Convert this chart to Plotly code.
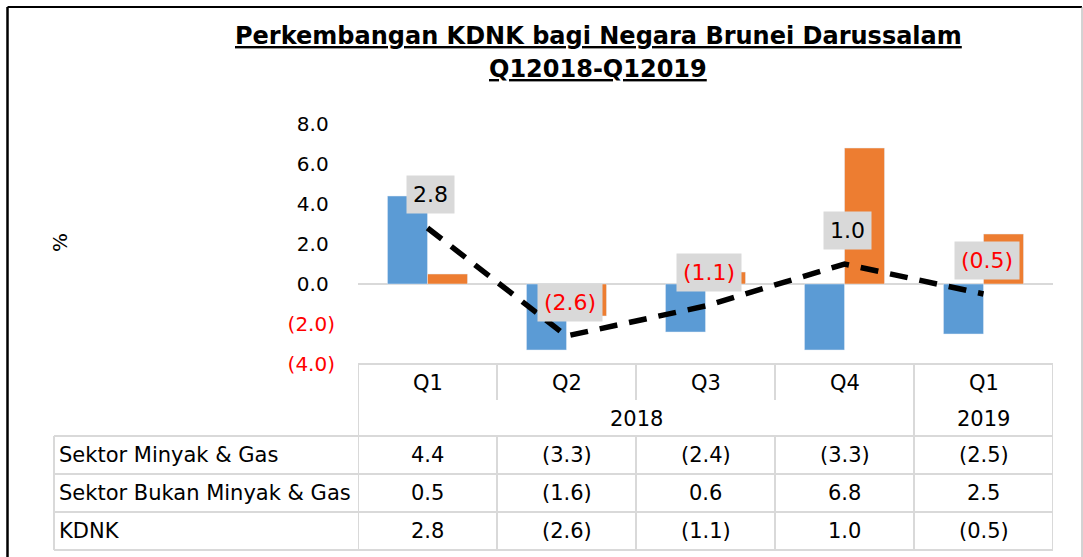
import plotly.graph_objects as go

# ---- data ----
quarters = ["Q1", "Q2", "Q3", "Q4", "Q1"]
years = ["2018", "2018", "2018", "2018", "2019"]
series_names = ["Sektor Minyak & Gas", "Sektor Bukan Minyak & Gas", "KDNK"]
minyak_gas = [4.4, -3.3, -2.4, -3.3, -2.5]
bukan_minyak_gas = [0.5, -1.6, 0.6, 6.8, 2.5]
kdnk = [2.8, -2.6, -1.1, 1.0, -0.5]
y_ticks = [8, 6, 4, 2, 0, -2, -4]
title_lines = ["Perkembangan KDNK bagi Negara Brunei Darussalam", "Q12018-Q12019"]

# ---- style ----
W, H = 1083, 557
L, R, T, B = 358, 1053, 124, 364  # plot area in pixels
BLUE = "#5B9BD5"
ORANGE = "#ED7D31"
GRID = "#D9D9D9"
RED = "#FF0000"
FONT = "DejaVu Sans"


def fmt(v):
    return f"{v:.1f}" if v >= 0 else f"({abs(v):.1f})"


def px(xpix):
    return (xpix - L) / (R - L)


def py(ypix):
    return (B - ypix) / (B - T)


xs = list(range(len(quarters)))

fig = go.Figure()
fig.add_trace(go.Bar(x=xs, y=minyak_gas, name=series_names[0], marker_color=BLUE))
fig.add_trace(go.Bar(x=xs, y=bukan_minyak_gas, name=series_names[1], marker_color=ORANGE))
fig.add_trace(go.Scatter(x=xs, y=kdnk, name=series_names[2], mode="lines",
                         line=dict(color="black", width=5.5, dash="18px,12px")))

annotations = []
shapes = []


def ann(**kw):
    kw.setdefault("showarrow", False)
    kw.setdefault("xanchor", "center")
    kw.setdefault("yanchor", "middle")
    annotations.append(kw)


# data labels for KDNK line
for x, v in zip(xs, kdnk):
    ann(x=x, y=v, xref="x", yref="y", text=fmt(v), yshift=34, xshift=3,
        bgcolor=GRID, borderpad=6,
        font=dict(family=FONT, size=22, color=RED if v < 0 else "black"))

# y-axis title
ann(x=px(60), y=py(243), xref="paper", yref="paper", text="%", textangle=-90,
    font=dict(family=FONT, size=20, color="black"))

# title
for txt, yc in zip(title_lines, [36, 69]):
    ann(x=px(598), y=py(yc), xref="paper", yref="paper", text=f"<b><u>{txt}</u></b>",
        font=dict(family=FONT, size=24, color="black"))

tfont = dict(family=FONT, size=21, color="black")
# table header
for x, q in zip(xs, quarters):
    ann(x=x, y=py(383), xref="x", yref="paper", text=q, font=tfont)
yr_groups = {}
for x, yv in zip(xs, years):
    yr_groups.setdefault(yv, []).append(x)
for yv, xx in yr_groups.items():
    ann(x=(min(xx) + max(xx)) / 2, y=py(419), xref="x", yref="paper", text=yv, font=tfont)

# table rows
row_centers = [455, 493, 531]
for name, vals, yc in zip(series_names, [minyak_gas, bukan_minyak_gas, kdnk], row_centers):
    ann(x=px(57), y=py(yc), xref="paper", yref="paper", text=name, xanchor="left", font=tfont)
    for x, v in zip(xs, vals):
        ann(x=x, y=py(yc), xref="x", yref="paper", text=fmt(v), font=tfont)


def line(x0, y0, x1, y1, xref="paper", color=GRID, width=2):
    shapes.append(dict(type="line", xref=xref, yref="paper", x0=x0, x1=x1, y0=y0, y1=y1,
                       line=dict(color=color, width=width)))


# header lines
line(px(L), py(364), px(R), py(364))
bounds = [x - 0.5 for x in xs] + [xs[-1] + 0.5]
year_bounds = {bounds[0], bounds[-1]}
for yv, xx in yr_groups.items():
    year_bounds.add(min(xx) - 0.5)
for b in bounds:
    bottom = 436 if b in year_bounds else 400
    line(b, py(364), b, py(bottom), xref="x")
    line(b, py(436), b, py(550), xref="x")
for yy in [436, 474, 512, 550]:
    line(px(54), py(yy), px(R), py(yy))
line(px(54), py(436), px(54), py(550))

# outer frame
line(px(7.5), py(7), px(1082), py(7), color="black", width=2)
line(px(7.5), py(7), px(7.5), py(570), color="black", width=2.5)
line(px(1082), py(7), px(1082), py(570), color="#A6A6A6", width=1)

ticktext = []
for t in y_ticks:
    if t < 0:
        ticktext.append(f"<span style='color:{RED}'>{fmt(t)}</span>")
    else:
        ticktext.append(fmt(t) + "\u2008")

fig.update_layout(
    width=W, height=H,
    margin=dict(l=L, r=W - R, t=T, b=H - B, autoexpand=False),
    paper_bgcolor="white", plot_bgcolor="white",
    barmode="group", bargap=0.424, bargroupgap=0,
    showlegend=False,
    annotations=annotations, shapes=shapes,
    xaxis=dict(range=[-0.5, len(xs) - 0.5], showticklabels=False, showgrid=False,
               zeroline=False, showline=False, fixedrange=True),
    yaxis=dict(range=[y_ticks[-1], y_ticks[0]], tickvals=y_ticks, ticktext=ticktext,
               showgrid=False, zeroline=True, zerolinecolor=GRID, zerolinewidth=2,
               showline=False, ticklabelstandoff=22,
               tickfont=dict(family=FONT, size=20, color="black")),
)

fig.write_html("out.html", config={"displayModeBar": False},
               post_script="document.body.style.margin='0';document.body.style.overflow='hidden';")
